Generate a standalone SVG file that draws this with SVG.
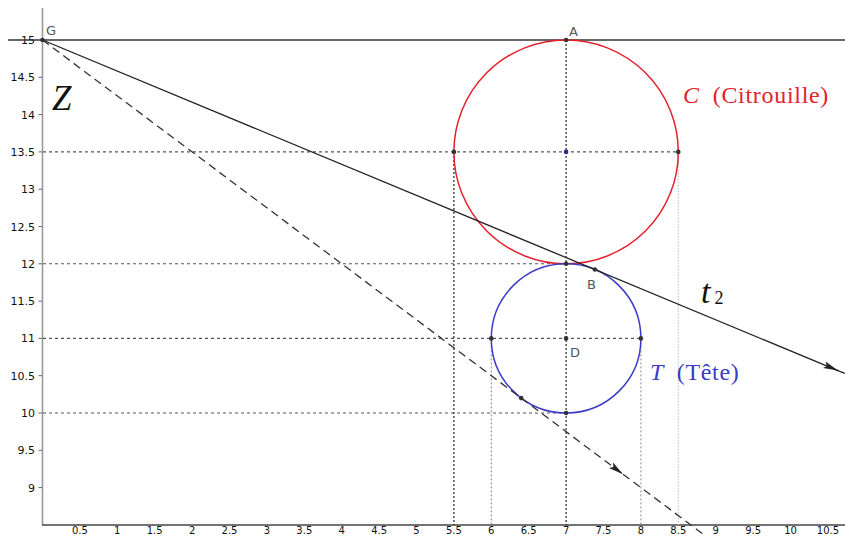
<svg xmlns="http://www.w3.org/2000/svg" width="845" height="536" viewBox="0 0 845 536">
  <style>
    .tick { font-family: "DejaVu Sans", sans-serif; font-size: 11px; fill: #111; }
    .yl { text-anchor: end; }
    .xl { text-anchor: middle; font-size: 10px; }
    .pl { font-family: "DejaVu Sans", sans-serif; font-size: 13px; fill: #555; }
    .tex { font-family: "Liberation Serif", serif; }
    .gh { stroke: #555; stroke-width: 1.1; stroke-dasharray: 3 3; fill: none; }
    .gv { stroke: #222; stroke-width: 1.2; stroke-dasharray: 2 2; fill: none; }
    .gvl { stroke: #888; stroke-width: 1; stroke-dasharray: 2 2; fill: none; }
    .gvvl { stroke: #bbb; stroke-width: 1; stroke-dasharray: 1.5 1.5; fill: none; }
    .pt { fill: #333; }
  </style>
  <defs>
    <marker id="arr" viewBox="0 0 15 8" refX="15" refY="4" markerWidth="15" markerHeight="8" orient="auto" markerUnits="userSpaceOnUse">
      <path d="M0 0.5 L15 4 L0 7.5 L3 4 Z" fill="#222"/>
    </marker>
  </defs>
  <rect width="845" height="536" fill="#fff"/>

  <g id="axes">
    <line x1="42.5" y1="8" x2="42.5" y2="525" stroke="#999" stroke-width="1.6"/>
    <line x1="42" y1="525" x2="845" y2="525" stroke="#444" stroke-width="1.5"/>
    <g stroke="#666" stroke-width="1">
      <line x1="38.5" y1="77.3" x2="42" y2="77.3"/>
      <line x1="38.5" y1="114.6" x2="42" y2="114.6"/>
      <line x1="38.5" y1="151.9" x2="42" y2="151.9"/>
      <line x1="38.5" y1="189.2" x2="42" y2="189.2"/>
      <line x1="38.5" y1="226.5" x2="42" y2="226.5"/>
      <line x1="38.5" y1="263.8" x2="42" y2="263.8"/>
      <line x1="38.5" y1="301.1" x2="42" y2="301.1"/>
      <line x1="38.5" y1="338.4" x2="42" y2="338.4"/>
      <line x1="38.5" y1="375.7" x2="42" y2="375.7"/>
      <line x1="38.5" y1="413" x2="42" y2="413"/>
      <line x1="38.5" y1="450.3" x2="42" y2="450.3"/>
      <line x1="38.5" y1="487.6" x2="42" y2="487.6"/>
    </g>
    <g class="tick yl">
      <text x="35" y="44">15</text>
      <text x="35" y="81.3">14.5</text>
      <text x="35" y="118.6">14</text>
      <text x="35" y="155.9">13.5</text>
      <text x="35" y="193.2">13</text>
      <text x="35" y="230.5">12.5</text>
      <text x="35" y="267.8">12</text>
      <text x="35" y="305.1">11.5</text>
      <text x="35" y="342.4">11</text>
      <text x="35" y="379.7">10.5</text>
      <text x="35" y="417">10</text>
      <text x="35" y="454.3">9.5</text>
      <text x="35" y="491.6">9</text>
    </g>
    <g class="tick xl">
      <text x="79.9" y="533.5">0.5</text>
      <text x="117.3" y="533.5">1</text>
      <text x="154.7" y="533.5">1.5</text>
      <text x="192.1" y="533.5">2</text>
      <text x="229.5" y="533.5">2.5</text>
      <text x="266.9" y="533.5">3</text>
      <text x="304.3" y="533.5">3.5</text>
      <text x="341.7" y="533.5">4</text>
      <text x="379.1" y="533.5">4.5</text>
      <text x="416.5" y="533.5">5</text>
      <text x="453.9" y="533.5">5.5</text>
      <text x="491.3" y="533.5">6</text>
      <text x="528.7" y="533.5">6.5</text>
      <text x="566.1" y="533.5">7</text>
      <text x="603.5" y="533.5">7.5</text>
      <text x="640.9" y="533.5">8</text>
      <text x="678.3" y="533.5">8.5</text>
      <text x="715.7" y="533.5">9</text>
      <text x="753.1" y="533.5">9.5</text>
      <text x="790.5" y="533.5">10</text>
      <text x="827.9" y="533.5">10.5</text>
    </g>
  </g>

  <g id="construction-lines">
    <line class="gh" x1="43" y1="151.9" x2="678.3" y2="151.9"/>
    <line class="gh" x1="43" y1="263.8" x2="566.1" y2="263.8"/>
    <line class="gh" x1="43" y1="338.4" x2="640.9" y2="338.4"/>
    <line class="gh" x1="43" y1="413" x2="566.1" y2="413"/>
    <line class="gv" x1="566.1" y1="40" x2="566.1" y2="525"/>
    <line class="gv" x1="453.9" y1="151.9" x2="453.9" y2="525"/>
    <line class="gvl" x1="491.3" y1="338.4" x2="491.3" y2="525"/>
    <line class="gvl" x1="640.9" y1="338.4" x2="640.9" y2="525"/>
    <line class="gvvl" x1="678.3" y1="151.9" x2="678.3" y2="525"/>
  </g>

  <g id="line-y15">
    <line x1="8" y1="40" x2="845" y2="40" stroke="#333" stroke-width="1.5"/>
  </g>

  <g id="circle-C">
    <ellipse cx="566.1" cy="151.9" rx="112.2" ry="111.9" fill="none" stroke="#e3222e" stroke-width="1.5"/>
  </g>
  <g id="circle-T">
    <ellipse cx="566.1" cy="338.4" rx="74.8" ry="74.6" fill="none" stroke="#3b3bc8" stroke-width="1.5"/>
  </g>

  <g id="connectors">
    <path d="M42.5 40 L838 370.6" stroke="#222" stroke-width="1.3" fill="none" marker-end="url(#arr)"/>
    <path d="M836 369.8 L845 373.5" stroke="#222" stroke-width="1.3" fill="none"/>
    <path d="M42.5 40 L623 474.2" stroke="#333" stroke-width="1.3" fill="none" stroke-dasharray="8 5" marker-end="url(#arr)"/>
    <path d="M623 474.2 L705.6 536" stroke="#333" stroke-width="1.3" fill="none" stroke-dasharray="8 5"/>
  </g>

  <g id="points">
    <circle class="pt" cx="42.5" cy="40" r="2.3"/>
    <circle class="pt" cx="566.1" cy="40" r="2.3"/>
    <circle cx="566.1" cy="151.9" r="2.3" fill="#2a2a8a"/>
    <circle class="pt" cx="453.9" cy="151.9" r="2.3"/>
    <circle class="pt" cx="678.3" cy="151.9" r="2.3"/>
    <circle class="pt" cx="566.1" cy="263.8" r="2.3"/>
    <circle class="pt" cx="594.9" cy="269.5" r="2.3"/>
    <circle class="pt" cx="566.1" cy="338.4" r="2.3"/>
    <circle class="pt" cx="491.3" cy="338.4" r="2.3"/>
    <circle class="pt" cx="640.9" cy="338.4" r="2.3"/>
    <circle class="pt" cx="566.1" cy="413" r="2.3"/>
    <circle class="pt" cx="521.2" cy="398.1" r="2.3"/>
  </g>

  <g id="labels">
    <text class="pl" x="46" y="35">G</text>
    <text class="pl" x="569" y="36">A</text>
    <text class="pl" x="587" y="289">B</text>
    <text class="pl" x="570" y="357">D</text>
    <text class="tex" x="52" y="110" font-size="35" font-style="italic" fill="#111">Z</text>
    <text class="tex" x="683" y="103" font-size="24" fill="#e3222e"><tspan font-style="italic">C</tspan><tspan x="712.7" letter-spacing="0.7">(Citrouille)</tspan></text>
    <text class="tex" x="650" y="380" font-size="24" fill="#3b3bc8"><tspan font-style="italic">T</tspan><tspan x="676.7" letter-spacing="0.7">(Tête)</tspan></text>
    <text class="tex" x="701" y="303" font-size="34" font-style="italic" fill="#111">t<tspan x="714.5" y="304" font-size="18" font-style="normal">2</tspan></text>
  </g>
</svg>
